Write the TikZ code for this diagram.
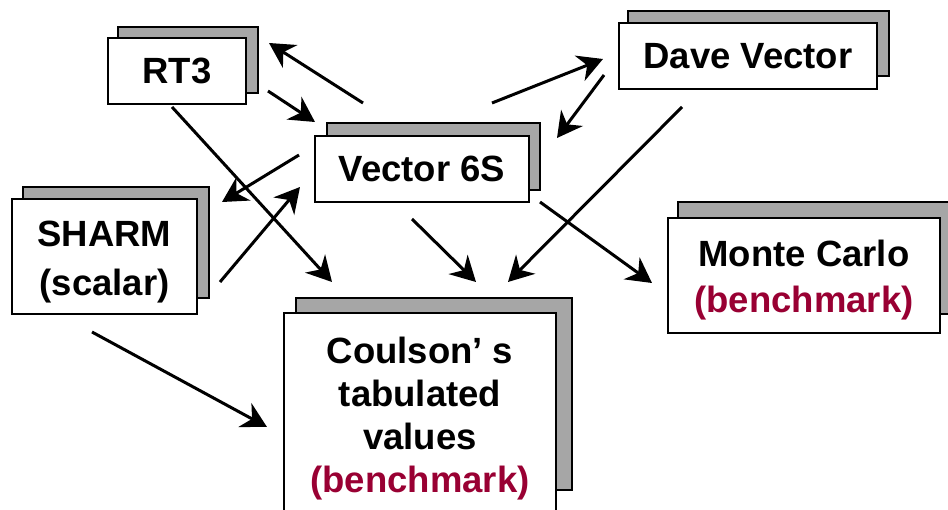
\documentclass[tikz,border=0pt]{standalone}
\usepackage{fontspec}
\setmainfont{Liberation Sans}
\usetikzlibrary{arrows.meta}
\definecolor{shadowgray}{RGB}{166,166,166}
\definecolor{bench}{RGB}{153,0,51}
\begin{document}
\begin{tikzpicture}[x=1pt,y=-1pt,
  box/.style={draw=black, line width=2pt, fill=white, inner sep=0pt, outer sep=0pt,
    align=center, font=\bfseries\fontsize{36.5}{46}\selectfont},
  shadowbox/.style={draw=black, line width=2pt, fill=shadowgray, inner sep=0pt, outer sep=0pt},
  arr/.style={line width=3pt, -{Stealth[length=25pt,width=27pt,inset=8pt]}}]
\useasboundingbox (0,0) rectangle (948,510);
\clip (0,0) rectangle (948,510);
% shadows
\node[shadowbox, minimum width=140pt, minimum height=66pt] (rt3sh) at (188,60) {};
\node[shadowbox, minimum width=213pt, minimum height=67pt] (vecsh) at (433.5,156.5) {};
\node[shadowbox, minimum width=261pt, minimum height=65pt] (davesh) at (758.5,43.5) {};
\node[shadowbox, minimum width=186pt, minimum height=111pt] (sharmsh) at (116,242.5) {};
\node[shadowbox, minimum width=277pt, minimum height=112pt] (montesh) at (816.5,258) {};
\node[shadowbox, minimum width=276pt, minimum height=192pt] (coulsh) at (434,394) {};
% front boxes
\node[box, minimum width=138pt, minimum height=66pt] (rt3) at (177,71) {RT3};
\node[box, minimum width=214pt, minimum height=66pt] (vec) at (422,169) {Vector 6S};
\node[box, minimum width=258pt, minimum height=66pt] (dave) at (748,56) {Dave Vector};
\node[box, minimum width=185pt, minimum height=115pt,
  font=\bfseries\fontsize{36.5}{49}\selectfont] (sharm) at (104.5,256.5) {\rule{0pt}{36.5pt}SHARM\\(scalar)};
\node[box, minimum width=272pt, minimum height=115pt,
  font=\bfseries\fontsize{36.5}{46}\selectfont] (monte) at (804,275.5) {\rule{0pt}{36.5pt}Monte Carlo\\\textcolor{bench}{(benchmark)}};
\node[box, minimum width=272pt, minimum height=211pt,
  font=\bfseries\fontsize{36.5}{43}\selectfont] (coul) at (420,418.5) {Coulson’ s\\tabulated\\values\\\textcolor{bench}{(benchmark)}};
% connectors
\draw[arr] ([shift={(48,-33)}]vec.north west) -- ([shift={(23,5)}]rt3.north east);
\draw[arr] ([shift={(22,-13)}]rt3.south east) -- ([shift={(0,-14)}]vec.north west);
\draw[arr] ([shift={(-5,3)}]rt3.south) -- ([shift={(48,-31)}]coul.north west);
\draw[arr] ([shift={(-16,-14)}]vec.west) -- ([shift={(25,3)}]sharm.north east);
\draw[arr] ([shift={(23,25.5)}]sharm.east) -- ([shift={(-15,18)}]vec.west);
\draw[arr] ([shift={(70,-33)}]vec.north) -- ([shift={(-16,3)}]dave.west);
\draw[arr] ([shift={(-15,19)}]dave.west) -- ([shift={(28,2)}]vec.north east);
\draw[arr] ([shift={(-66,18)}]dave.south) -- ([shift={(88,-31)}]coul.north);
\draw[arr] ([shift={(-10,17)}]vec.south) -- ([shift={(56,-31)}]coul.north);
\draw[arr] ([shift={(11,0)}]vec.south east) -- ([shift={(-16,7.5)}]monte.west);
\draw[arr] ([shift={(-12.5,18)}]sharm.south) -- ([shift={(-17,8.5)}]coul.west);
\end{tikzpicture}
\end{document}
